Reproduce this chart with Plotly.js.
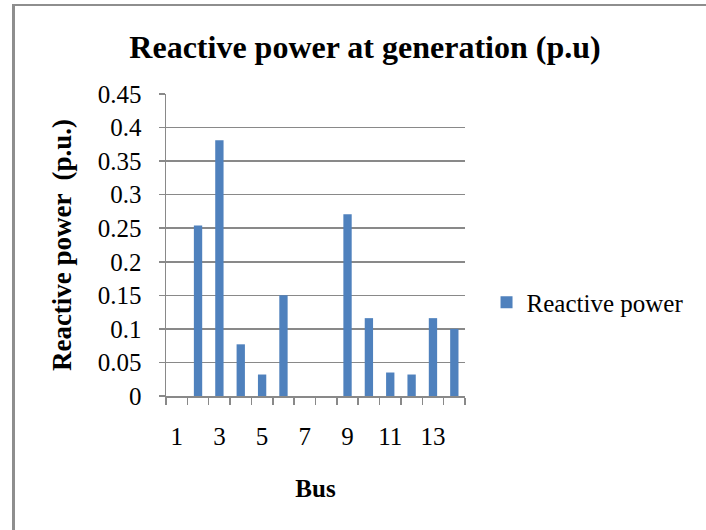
<!DOCTYPE html>
<html>
<head>
<meta charset="utf-8">
<script src="https://cdn.plot.ly/plotly-3.0.1.min.js"></script>
<style>
  html, body { margin: 0; padding: 0; background: #fff; }
  #wrap { position: relative; width: 706px; height: 530px; }
  #chart { width: 706px; height: 530px; }
  #frame { position: absolute; left: 12px; top: 4px; width: 700px; height: 540px;
           border-left: 3px solid #8e8e8e; border-top: 2px solid #8e8e8e; pointer-events: none; }
</style>
</head>
<body>
<div id="wrap">
  <div id="chart"></div>
  <div id="frame"></div>
</div>
<script>
const buses = ['1','2','3','4','5','6','7','8','9','10','11','12','13','14'];
const reactivePower = [0, 0.254, 0.381, 0.077, 0.032, 0.150, 0, 0, 0.271, 0.116, 0.035, 0.032, 0.116, 0.100];
const busTickLabels = ['1','','3','','5','','7','','9','','11','','13',''];
const yTickValues = [0, 0.05, 0.1, 0.15, 0.2, 0.25, 0.3, 0.35, 0.4, 0.45];
const seriesName = 'Reactive power';

const serif = '"Liberation Serif", "Times New Roman", serif';
const gray = '#898989';

const trace = {
  type: 'bar',
  x: buses,
  y: reactivePower,
  name: seriesName,
  marker: { color: '#4f81bd' },
  showlegend: true
};

const layout = {
  width: 706,
  height: 530,
  margin: { l: 166, r: 241, t: 94, b: 134 },
  paper_bgcolor: '#fff',
  plot_bgcolor: '#fff',
  bargap: 0.61,
  showlegend: true,
  title: {
    text: 'Reactive power at generation (p.u)',
    font: { family: serif, size: 32, color: '#000', weight: 'bold' },
    x: 0.517, xanchor: 'center',
    y: 0.912, yanchor: 'middle'
  },
  xaxis: {
    type: 'category',
    tickvals: buses,
    ticktext: busTickLabels,
    tickson: 'boundaries',
    tickangle: 0,
    ticks: 'outside',
    ticklen: 7,
    tickwidth: 1.5,
    tickcolor: gray,
    showline: true,
    linecolor: gray,
    linewidth: 1.5,
    showgrid: false,
    ticklabelstandoff: 17,
    tickfont: { family: serif, size: 25, color: '#000' },
    title: {
      text: 'Bus',
      font: { family: serif, size: 25, color: '#000', weight: 'bold' },
      standoff: 31
    }
  },
  yaxis: {
    range: [0, 0.45],
    tickvals: yTickValues,
    ticks: 'outside',
    ticklen: 6,
    tickwidth: 1.5,
    tickcolor: gray,
    showline: true,
    linecolor: gray,
    linewidth: 1.5,
    showgrid: true,
    gridcolor: gray,
    gridwidth: 1.5,
    zeroline: false,
    ticklabelstandoff: 12,
    tickfont: { family: serif, size: 25, color: '#000' },
    title: {
      text: 'Reactive power  (p.u.)',
      font: { family: serif, size: 27, color: '#000', weight: 'bold' },
      standoff: 18
    }
  },
  legend: {
    x: 1.072, xanchor: 'left',
    y: 0.31, yanchor: 'middle',
    font: { family: serif, size: 25, color: '#000' },
    bgcolor: 'rgba(0,0,0,0)',
    itemwidth: 30
  }
};

Plotly.newPlot('chart', [trace], layout, { displayModeBar: false, staticPlot: true });
</script>
</body>
</html>
